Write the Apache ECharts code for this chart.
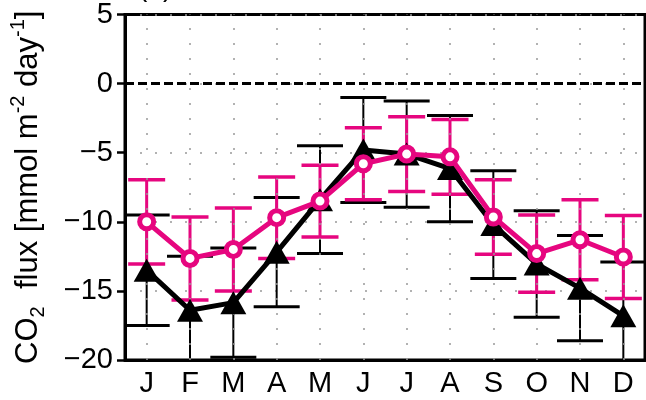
<!DOCTYPE html>
<html>
<head>
<meta charset="utf-8">
<script src="https://cdn.jsdelivr.net/npm/echarts@6/dist/echarts.min.js"></script>
<style>
html,body{margin:0;padding:0;background:#fff;}
#c{width:646px;height:400px;}
</style>
</head>
<body>
<div id="c"></div>
<script>
const months = ['J','F','M','A','M','J','J','A','S','O','N','D'];
const yTicks = [-20, -15, -10, -5, 0, 5];
// black series (triangles)
const blackMean = [-13.5, -16.4, -15.85, -12.2, -8.4, -4.8, -5.1, -6.15, -10.2, -13.05, -14.8, -16.8];
const blackErr  = [4.0, 3.9, 3.95, 3.95, 3.9, 3.8, 3.85, 3.85, 3.9, 3.85, 3.8, 3.9];
// pink series (open circles)
const pinkMean = [-10.0, -12.65, -12.0, -9.7, -8.5, -5.8, -5.1, -5.3, -9.65, -12.3, -11.3, -12.55];
const pinkErr  = [3.05, 3.0, 3.0, 2.95, 2.6, 2.6, 2.7, 2.7, 2.7, 2.8, 2.9, 3.0];

const PINK = '#e6067f';
const FONT = 'Liberation Sans, Arial, sans-serif';

function errData(mean, err) {
  return mean.map((m, i) => [i, m - err[i], m + err[i]]);
}
function errRender(color, stemW, capW, capLen) {
  return function (params, api) {
    const x = api.value(0);
    const lo = api.coord([x, api.value(1)]);
    const hi = api.coord([x, api.value(2)]);
    const h = capLen / 2;
    return {
      type: 'group',
      children: [
        {type: 'line', shape: {x1: lo[0], y1: lo[1], x2: hi[0], y2: hi[1]}, style: {stroke: color, lineWidth: stemW}},
        {type: 'line', shape: {x1: lo[0] - h, y1: lo[1], x2: lo[0] + h, y2: lo[1]}, style: {stroke: color, lineWidth: capW}},
        {type: 'line', shape: {x1: hi[0] - h, y1: hi[1], x2: hi[0] + h, y2: hi[1]}, style: {stroke: color, lineWidth: capW}}
      ]
    };
  };
}

const chart = echarts.init(document.getElementById('c'), null, {renderer: 'canvas'});
chart.setOption({
  animation: false,
  backgroundColor: '#fff',
  textStyle: {fontFamily: FONT},
  title: {
    text: '(a)', left: 138, top: -26, padding: 0,
    textStyle: {fontSize: 28, fontWeight: 'normal', color: '#000', fontFamily: FONT}
  },
  grid: {left: 120, right: 1, top: 10, bottom: 40, show: true, borderColor: '#000', borderWidth: 3, containLabel: false},
  xAxis: {
    type: 'category', data: months, boundaryGap: true,
    axisLine: {onZero: false, lineStyle: {color: '#000', width: 3}},
    axisTick: {alignWithLabel: true, length: 8, lineStyle: {color: '#000', width: 2.5}},
    axisLabel: {color: '#000', fontSize: 29, margin: 9, fontFamily: FONT, interval: 0},
    splitLine: {show: false}
  },
  yAxis: {
    type: 'value', min: -20, max: 5, interval: 5,
    name: '{n|CO}{sub|2}{n|  flux [mmol m}{sup|-2}{n| day}{sup|-1}{n|]}',
    nameLocation: 'middle', nameRotate: 90, nameGap: 77,
    nameTextStyle: {
      color: '#000', fontFamily: FONT, fontSize: 31, lineHeight: 40,
      rich: {
        n: {fontSize: 31, color: '#000', fontFamily: FONT, lineHeight: 40},
        sub: {fontSize: 20, color: '#000', fontFamily: FONT, verticalAlign: 'bottom', lineHeight: 14},
        sup: {fontSize: 20, color: '#000', fontFamily: FONT, verticalAlign: 'top', lineHeight: 20}
      }
    },
    axisLine: {show: true, lineStyle: {color: '#000', width: 3}},
    axisTick: {show: true, length: 8, lineStyle: {color: '#000', width: 2.5}},
    axisLabel: {color: '#000', fontSize: 29, margin: 12, fontFamily: FONT,
      formatter: v => String(v).replace('-', '\u2212')},
    splitLine: {show: true, lineStyle: {color: '#999', width: 1.5, type: [2, 13]}}
  },
  series: [
    {
      type: 'line', data: [], silent: true, z: 1,
      markLine: {
        silent: true, symbol: 'none', label: {show: false},
        lineStyle: {color: '#999', width: 1.5, type: [2, 13]},
        data: months.map((m, i) => ({xAxis: i}))
      }
    },
    {
      type: 'line', data: [], silent: true, z: 2,
      markLine: {
        silent: true, symbol: 'none', label: {show: false},
        lineStyle: {color: '#000', width: 3, type: [9, 4]},
        data: [{yAxis: 0}]
      }
    },
    {
      type: 'custom', name: 'blackErr', z: 3, clip: true, silent: true,
      data: errData(blackMean, blackErr),
      encode: {x: 0, y: [1, 2]},
      renderItem: errRender('#000', 2, 3, 46)
    },
    {
      type: 'custom', name: 'pinkErr', z: 4, clip: true, silent: true,
      data: errData(pinkMean, pinkErr),
      encode: {x: 0, y: [1, 2]},
      renderItem: errRender(PINK, 3, 3.5, 37)
    },
    {
      type: 'line', name: 'black', z: 5, data: blackMean,
      symbol: 'triangle', symbolSize: [26, 23], showSymbol: true,
      itemStyle: {color: '#000'},
      lineStyle: {color: '#000', width: 5}
    },
    {
      type: 'line', name: 'pink', z: 6, data: pinkMean,
      symbol: 'circle', symbolSize: 14, showSymbol: true,
      itemStyle: {color: '#fff', borderColor: PINK, borderWidth: 5},
      lineStyle: {color: PINK, width: 5}
    }
  ]
});
</script>
</body>
</html>
